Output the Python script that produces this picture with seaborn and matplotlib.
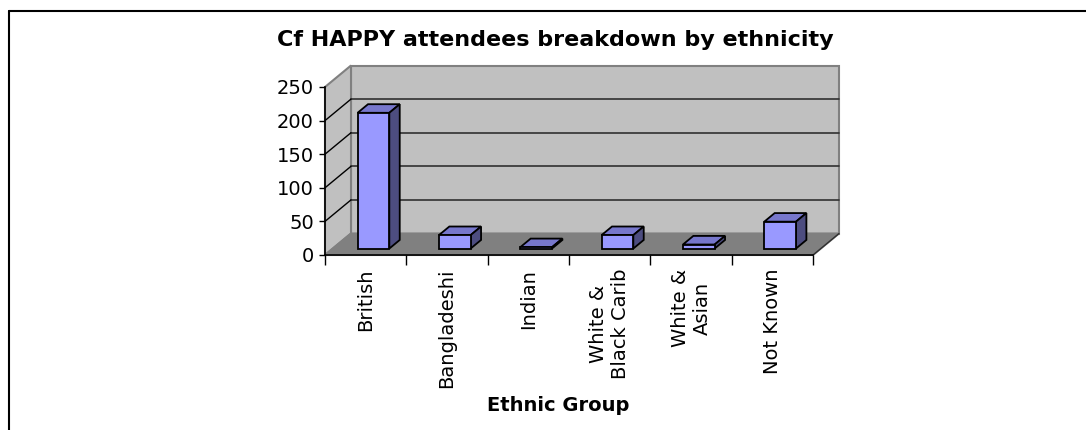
import matplotlib
matplotlib.use("Agg")
import matplotlib.pyplot as plt
from matplotlib.patches import Polygon
from matplotlib.lines import Line2D
import pandas as pd
import seaborn as sns

# ---- data -------------------------------------------------------------
categories = ["British", "Bangladeshi", "Indian", "White &\nBlack Carib",
              "White &\nAsian", "Not Known"]
attendees = [202, 20, 2, 20, 6, 40]
y_ticks = [0, 50, 100, 150, 200, 250]

chart_title = "Cf HAPPY attendees breakdown by ethnicity"
x_title = "Ethnic Group"

# ---- style ------------------------------------------------------------
sns.set_theme(style="white")
plt.rcParams["font.family"] = ["DejaVu Sans"]

W, H = 1086, 430
fig = plt.figure(figsize=(W / 100, H / 100), dpi=100)

# front plane of the 3-D box, in pixels
left, right, top, bottom = 325, 813, 87, 255
ax = fig.add_axes([left / W, 1 - bottom / H, (right - left) / W, (bottom - top) / H])
ax.set_facecolor("none")

df = pd.DataFrame({"group": categories, "count": attendees})
sns.barplot(data=df, x="group", y="count", order=categories, color="#9999ff",
            saturation=1, width=0.39, edgecolor="black", linewidth=1.3,
            errorbar=None, ax=ax, zorder=5)

n = len(categories)
ax.set_xlim(-0.5, n - 0.5)
ax.set_ylim(y_ticks[0], y_ticks[-1])
ymax = y_ticks[-1]

# depth of the box expressed in data units
px_x = (right - left) / n
px_y = (bottom - top) / ymax
DX = 26 / px_x
DY = 21.5 / px_y

x0, x1 = -0.5, n - 0.5
wall_kw = dict(clip_on=False, zorder=0, linewidth=1.5)

# back wall, side wall and floor
ax.add_patch(Polygon([(x0 + DX, DY), (x1 + DX, DY), (x1 + DX, ymax + DY), (x0 + DX, ymax + DY)],
                     facecolor="#c0c0c0", edgecolor="#808080", **wall_kw))
ax.add_patch(Polygon([(x0, 0), (x0 + DX, DY), (x0 + DX, ymax + DY), (x0, ymax)],
                     facecolor="#c0c0c0", edgecolor="#808080", **wall_kw))
ax.add_patch(Polygon([(x0, 0), (x1, 0), (x1 + DX, DY), (x0 + DX, DY)],
                     facecolor="#808080", edgecolor="#808080", **wall_kw))
ax.plot([x1, x1 + DX], [0, DY], color="#303030", lw=1.0, clip_on=False, zorder=1)

# gridlines on the walls
for v in y_ticks[1:-1]:
    ax.plot([x0 + DX, x1 + DX], [v + DY, v + DY], color="#303030", lw=1.2,
            clip_on=False, zorder=1)
    ax.plot([x0, x0 + DX], [v, v + DY], color="black", lw=1.0, clip_on=False, zorder=1)

# give each column its depth: front face pushed back, plus top and side faces
front, back = 0.3, 0.7
ox, oy = front * DX, front * DY
bx, by = back * DX, back * DY
for p in list(ax.patches):
    if p.get_zorder() != 5:
        continue
    xs, w, h = p.get_x(), p.get_width(), p.get_height()
    p.set_x(xs + ox)
    p.set_y(oy)
    p.set_clip_on(False)
    face_kw = dict(edgecolor="black", linewidth=1.3, clip_on=False, zorder=4,
                   joinstyle="miter")
    ax.add_patch(Polygon([(xs + ox, h + oy), (xs + w + ox, h + oy),
                          (xs + w + bx, h + by), (xs + bx, h + by)],
                         facecolor="#7777cc", **face_kw))
    ax.add_patch(Polygon([(xs + w + ox, oy), (xs + w + bx, by),
                          (xs + w + bx, h + by), (xs + w + ox, h + oy)],
                         facecolor="#4d4d80", **face_kw))

# axes
for s in ["top", "right"]:
    ax.spines[s].set_visible(False)
for s in ["left", "bottom"]:
    ax.spines[s].set_color("black")
    ax.spines[s].set_linewidth(1.2)
    ax.spines[s].set_zorder(6)

ax.set_yticks(y_ticks)
ax.set_yticklabels([str(t) for t in y_ticks], fontsize=14)
ax.tick_params(axis="y", left=True, direction="out", length=4, width=1,
               color="black", pad=4, labelcolor="black")

ax.set_xticks(range(n))
ax.set_xticklabels(categories, rotation=90, fontsize=14, ha="center", va="top",
                   multialignment="center")
ax.set_xticks([i - 0.5 for i in range(n + 1)], minor=True)
ax.tick_params(axis="x", which="major", bottom=True, length=0, pad=10, labelcolor="black")
ax.tick_params(axis="x", which="minor", bottom=True, direction="out", length=7,
               width=1, color="black")

ax.set_ylabel("")
ax.set_xlabel(x_title, fontsize=14, fontweight="bold", color="black")
ax.xaxis.set_label_coords((558 - left) / (right - left), (bottom - 405) / (bottom - top))
ax.xaxis.label.set_verticalalignment("center")

fig.text(555 / W, 1 - 40 / H, chart_title, ha="center", va="center",
         fontsize=16, fontweight="bold", color="black")

# outer frame (top and left edges)
fig.add_artist(Line2D([8.5 / W, 8.5 / W], [0, 1 - 10.5 / H], transform=fig.transFigure,
                      color="black", lw=1.5))
fig.add_artist(Line2D([8.5 / W, 1], [1 - 10.5 / H, 1 - 10.5 / H], transform=fig.transFigure,
                      color="black", lw=1.5))

fig.savefig("out.png", dpi=100)
